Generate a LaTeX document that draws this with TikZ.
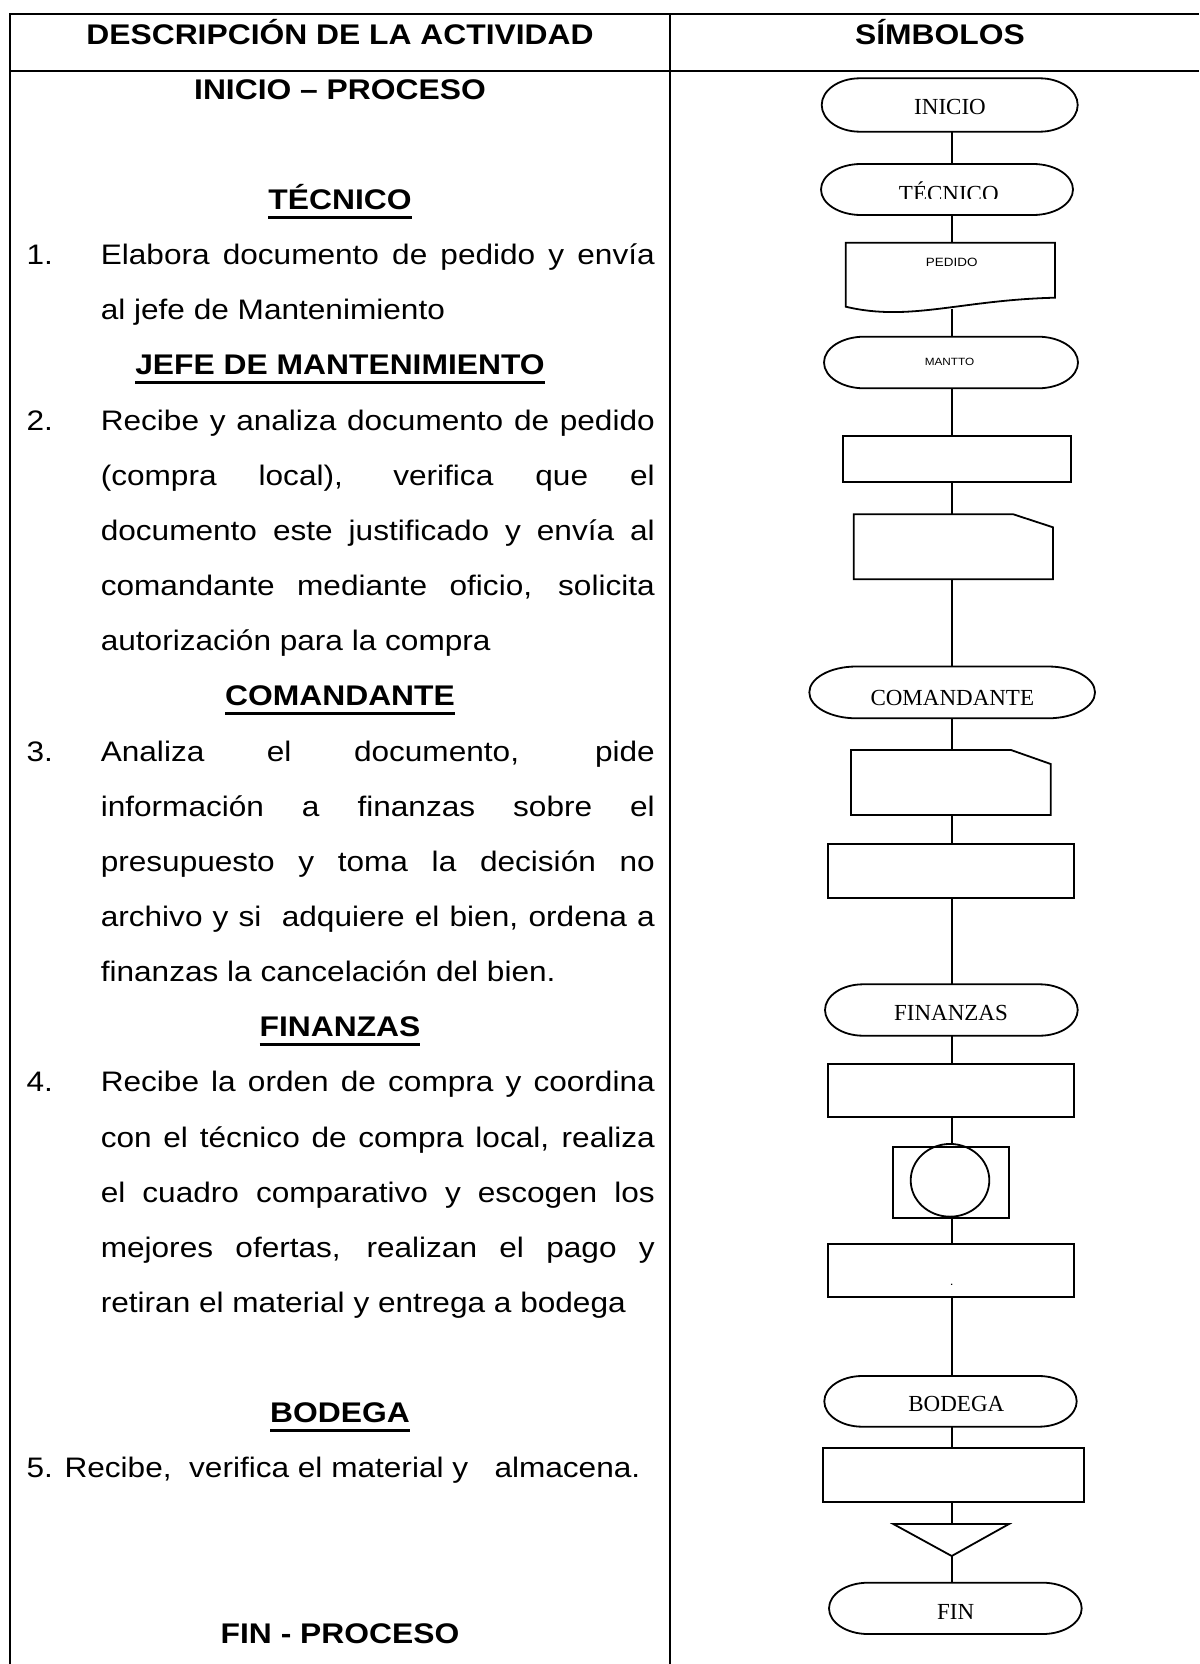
\documentclass[tikz,border=0pt]{standalone}
\usepackage{fontspec}
\setmainfont{Liberation Sans}[FakeStretch=1.12]
\newfontfamily\tnr{Liberation Serif}
\usetikzlibrary{calc,shapes.geometric}
\newsavebox\ulbox
\newcommand\ulin[1]{\sbox\ulbox{#1}\rlap{\rule[-9.5pt]{\wd\ulbox}{3.2pt}}\usebox\ulbox}
\newcommand\ly[1]{-(99.2+55.15*#1)}
\newcommand\stadium[2]{%
  \draw[flow] let \p1=(#1.north west), \p2=(#1.south east), \n1={(\y1-\y2)/2} in
   ({\x1+#2pt},\y1) -- ({\x2-#2pt},\y1)
   arc[start angle=90,end angle=-90,x radius=#2pt,y radius=\n1]
   -- ({\x1+#2pt},\y2)
   arc[start angle=270,end angle=90,x radius=#2pt,y radius=\n1] -- cycle;}
\begin{document}
\begin{tikzpicture}[x=1pt,y=1pt,
  tline/.style={line width=2.3pt},
  flow/.style={line width=1.8pt},
  hold/.style={draw=none,inner sep=0,outer sep=0},
  box/.style={draw,line width=1.8pt,inner sep=0,outer sep=0},
  txt/.style={inner sep=0,outer sep=0,font=\fontsize{28.2}{34}\selectfont},
  hd/.style={inner sep=0,outer sep=0,font=\fontsize{28.4}{34}\selectfont\bfseries},
  lbl/.style={inner sep=0,outer sep=0,font=\tnr\fontsize{23}{27}\selectfont},
  slbl/.style={inner sep=0,outer sep=0,font=\fontsize{12}{14}\selectfont},
 ]
\useasboundingbox (0,0) rectangle (1199,-1664);
\fill[white] (0,0) rectangle (1199,-1664);
% table
\draw[tline] (10,-1664) -- (10,-14) -- (1199,-14);
\draw[tline] (10,-70.7) -- (1199,-70.7);
\draw[tline] (670,-14) -- (670,-1664);
\node[hd,anchor=base] (h1) at (340,-45) {DESCRIPCIÓN DE LA ACTIVIDAD};
\node[hd,anchor=base] (h2) at (940,-45) {SÍMBOLOS};
% left column
\node[hd,anchor=base] (s0) at (340,{\ly{0}}) {INICIO – PROCESO};
\node[hd,anchor=base] (s1) at (340,{\ly{2}}) {\ulin{TÉCNICO}};
\node[txt,anchor=base west] (n1) at (26.5,{\ly{3}}) {1.};
\node[txt,anchor=base west] (p1a) at (100.8,{\ly{3}}) {\makebox[554pt][s]{Elabora documento de pedido y envía}};
\node[txt,anchor=base west] (p1b) at (100.8,{\ly{4}}) {al jefe de Mantenimiento};
\node[hd,anchor=base] (s2) at (340,{\ly{5}}) {\ulin{JEFE DE MANTENIMIENTO}};
\node[txt,anchor=base west] (n2) at (26.5,{\ly{6}}) {2.};
\node[txt,anchor=base west] (p2a) at (100.8,{\ly{6}}) {\makebox[554pt][s]{Recibe y analiza documento de pedido}};
\node[txt,anchor=base west] (p2b) at (100.8,{\ly{7}}) {\makebox[554pt][s]{(compra local), verifica que el}};
\node[txt,anchor=base west] (p2c) at (100.8,{\ly{8}}) {\makebox[554pt][s]{documento este justificado y envía al}};
\node[txt,anchor=base west] (p2d) at (100.8,{\ly{9}}) {\makebox[554pt][s]{comandante mediante oficio, solicita}};
\node[txt,anchor=base west] (p2e) at (100.8,{\ly{10}}) {autorización para la compra};
\node[hd,anchor=base] (s3) at (340,{\ly{11}}) {\ulin{COMANDANTE}};
\node[txt,anchor=base west] (n3) at (26.5,{\ly{12}}) {3.};
\node[txt,anchor=base west] (p3a) at (100.8,{\ly{12}}) {\makebox[554pt][s]{Analiza el documento, pide}};
\node[txt,anchor=base west] (p3b) at (100.8,{\ly{13}}) {\makebox[554pt][s]{información a finanzas sobre el}};
\node[txt,anchor=base west] (p3c) at (100.8,{\ly{14}}) {\makebox[554pt][s]{presupuesto y toma la decisión no}};
\node[txt,anchor=base west] (p3d) at (100.8,{\ly{15}}) {\makebox[554pt][s]{archivo y si\ \ adquiere el bien, ordena a}};
\node[txt,anchor=base west] (p3e) at (100.8,{\ly{16}}) {finanzas la cancelación del bien.};
\node[hd,anchor=base] (s4) at (340,{\ly{17}}) {\ulin{FINANZAS}};
\node[txt,anchor=base west] (n4) at (26.5,{\ly{18}}) {4.};
\node[txt,anchor=base west] (p4a) at (100.8,{\ly{18}}) {\makebox[554pt][s]{Recibe la orden de compra y coordina}};
\node[txt,anchor=base west] (p4b) at (100.8,{\ly{19}}) {\makebox[554pt][s]{con el técnico de compra local, realiza}};
\node[txt,anchor=base west] (p4c) at (100.8,{\ly{20}}) {\makebox[554pt][s]{el cuadro comparativo y escogen los}};
\node[txt,anchor=base west] (p4d) at (100.8,{\ly{21}}) {\makebox[554pt][s]{mejores ofertas, realizan el pago y}};
\node[txt,anchor=base west] (p4e) at (100.8,{\ly{22}}) {retiran el material y entrega a bodega};
\node[hd,anchor=base] (s5) at (340,{\ly{24}}) {\ulin{BODEGA}};
\node[txt,anchor=base west] (p5) at (26.5,{\ly{25}}) {5. Recibe,\ \ verifica el material y\ \ \ almacena.};
\node[hd,anchor=base] (s6) at (340,{\ly{28}}) {FIN - PROCESO};
% flowchart
\coordinate (sp) at (952,0);
\node[hold,minimum width=256,minimum height=53.4] (t1) at (949.7,-105) {};
\stadium{t1}{38}
\node[lbl,anchor=base] (t1l) at (950,-115) {INICIO};
\node[hold,minimum width=252,minimum height=51] (t2) at (947,-189.5) {};
\stadium{t2}{40}
\begin{scope}
\clip (800,-170) rectangle (1100,-198.3);
\node[lbl,anchor=base] (t2l) at (948.8,-201.5) {TÉCNICO};
\end{scope}
\node[hold,minimum width=209.3,minimum height=65.8] (d1) at (950.35,-275.6) {};
\draw[flow] (845.7,-306.7) -- (845.7,-242.7) -- (1055,-242.7) -- (1055,-297.7) .. controls (960,-300) and (910,-322) .. (845.7,-306.7) -- cycle;
\node[slbl,anchor=base] (d1l) at (951.7,-266.7) {PEDIDO};
\node[hold,minimum width=254,minimum height=51.6] (t3) at (951,-362.5) {};
\stadium{t3}{40}
\node[slbl,anchor=base,font=\fontsize{10.5}{13}\selectfont] (t3l) at (949.5,-365) {MANTTO};
\node[box,minimum width=227.7,minimum height=46.3] (r1) at (957.15,-459.15) {};
\node[hold,minimum width=199.3,minimum height=65] (c1) at (953.35,-546.8) {};
\draw[flow] (c1.south west) -- (c1.north west) -- ($(c1.north east)+(-39.7,0)$) -- ($(c1.north east)+(0,-13)$) -- (c1.south east) -- cycle;
\node[hold,minimum width=285.7,minimum height=51.8] (t4) at (952.15,-692.4) {};
\stadium{t4}{47}
\node[lbl,anchor=base] (t4l) at (952.3,-705) {COMANDANTE};
\node[hold,minimum width=199.7,minimum height=65] (c2) at (950.85,-782.5) {};
\draw[flow] (c2.south west) -- (c2.north west) -- ($(c2.north east)+(-39.7,0)$) -- ($(c2.north east)+(0,-14)$) -- (c2.south east) -- cycle;
\node[box,minimum width=245.7,minimum height=54] (r2) at (951.15,-871.3) {};
\node[hold,minimum width=252.7,minimum height=51.4] (t5) at (951.35,-1010) {};
\stadium{t5}{38}
\node[lbl,anchor=base] (t5l) at (951,-1020.7) {FINANZAS};
\node[box,minimum width=246.3,minimum height=53] (r3) at (950.85,-1090.8) {};
\node[box,minimum width=116,minimum height=70.7] (sq) at (951.3,-1182.65) {};
\node[box,ellipse,minimum width=78.6,minimum height=72.7] (circ) at (950,-1180.3) {};
\node[box,minimum width=246.3,minimum height=52.7] (r4) at (950.85,-1270.35) {};
\node[slbl,anchor=base] (r4l) at (951.7,-1285) {.};
\node[hold,minimum width=252.4,minimum height=50.7] (t6) at (950.5,-1401.35) {};
\stadium{t6}{38}
\node[lbl,anchor=base] (t6l) at (956.3,-1411) {BODEGA};
\node[box,minimum width=261.6,minimum height=53.7] (r5) at (953.5,-1475.15) {};
\node[hold,minimum width=115.7,minimum height=32] (tri) at (951.15,-1540) {};
\draw[flow] (tri.north west) -- (tri.north east) -- (951.7,-1556) -- cycle;
\node[hold,minimum width=252.7,minimum height=51.3] (t7) at (955.35,-1608.35) {};
\stadium{t7}{39}
\node[lbl,anchor=base] (t7l) at (955.7,-1619.3) {FIN};
\foreach \a/\b in {t1/t2,t2/d1,d1/t3,t3/r1,r1/c1,c1/t4,t4/c2,c2/r2,r2/t5,t5/r3,r3/circ,circ/r4,r4/t6,t6/r5,r5/tri,tri/t7}
  \draw[flow] (\a.south -| sp) -- (\b.north -| sp);
\end{tikzpicture}
\end{document}
